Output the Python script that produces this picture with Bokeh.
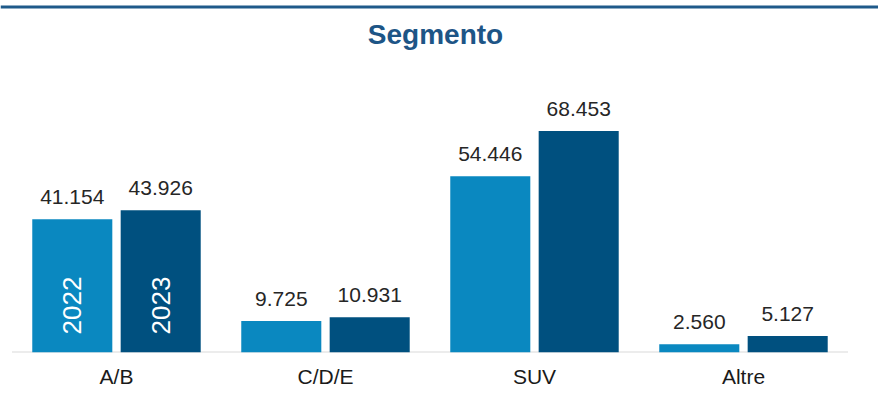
from bokeh.plotting import figure
from bokeh.models import ColumnDataSource, Range1d, FixedTicker, Span, Label
from bokeh.transform import dodge
from bokeh.embed import file_html
from bokeh.resources import INLINE
from bokeh.core.properties import value
import math

categories = ["A/B", "C/D/E", "SUV", "Altre"]
years = ["2022", "2023"]
values_2022 = [41154, 9725, 54446, 2560]
values_2023 = [43926, 10931, 68453, 5127]

def fmt(v):
    return f"{v:,}".replace(",", ".")

pos = [i + 0.5 for i in range(len(categories))]
src = ColumnDataSource(dict(
    x=pos,
    v22=values_2022,
    v23=values_2023,
    l22=[fmt(v) for v in values_2022],
    l23=[fmt(v) for v in values_2023],
))

C22 = "#0a88c0"
C23 = "#00507f"
TXT = "#262626"
FONT = "Liberation Sans"

p = figure(width=878, height=395, output_backend="svg", toolbar_location=None,
           x_range=Range1d(-0.055, 4.146), y_range=Range1d(0, 108770),
           min_border_left=0, min_border_right=0, min_border_top=0, min_border_bottom=43)
p.outline_line_color = None
p.xgrid.visible = False
p.ygrid.visible = False
p.yaxis.visible = False
p.background_fill_color = "white"
p.border_fill_color = "white"

# baseline
p.line(x=[0, len(categories)], y=[0, 0], line_color="#d9d9d9", line_width=2)

off = 0.2115
bw = 0.383
p.vbar(x=dodge("x", -off), top="v22", width=bw, bottom=0, source=src,
       fill_color=C22, line_color=None)
p.vbar(x=dodge("x", off), top="v23", width=bw, bottom=0, source=src,
       fill_color=C23, line_color=None)

p.text(x=dodge("x", -off), y="v22", text="l22", source=src, y_offset=-22,
       text_align="center", text_baseline="alphabetic", text_font=value(FONT),
       text_font_size="21px", text_color=TXT)
p.text(x=dodge("x", off), y="v23", text="l23", source=src, y_offset=-22,
       text_align="center", text_baseline="alphabetic", text_font=value(FONT),
       text_font_size="21px", text_color=TXT)

# year labels inside the first pair of bars
ysrc = ColumnDataSource(dict(x=[pos[0] - off, pos[0] + off], y=[0, 0], t=years))
p.text(x="x", y="y", text="t", source=ysrc, angle=math.pi / 2, y_offset=-18,
       text_align="left", text_baseline="middle", text_font=value(FONT),
       text_font_size="26px", text_color="white")

ax = p.xaxis[0]
ax.ticker = FixedTicker(ticks=pos)
ax.major_label_overrides = {p_: c for p_, c in zip(pos, categories)}
ax.axis_line_color = None
ax.major_tick_line_color = None
ax.minor_tick_line_color = None
ax.major_tick_out = 0
ax.major_label_standoff = 12
ax.major_label_text_font = FONT
ax.major_label_text_font_size = "21px"
ax.major_label_text_color = "#1a1a1a"

# top rule and title
p.add_layout(Span(location=345.5, location_units="screen", dimension="width",
                  line_color="#1f5a8a", line_width=3))
p.add_layout(Label(x=435, y=318, x_units="screen", y_units="screen", text="Segmento",
                   text_align="center", text_baseline="alphabetic",
                   text_font=FONT, text_font_size="28px", text_font_style="bold",
                   text_color="#1d5586"))

open("out.html", "w").write(file_html(p, INLINE))
